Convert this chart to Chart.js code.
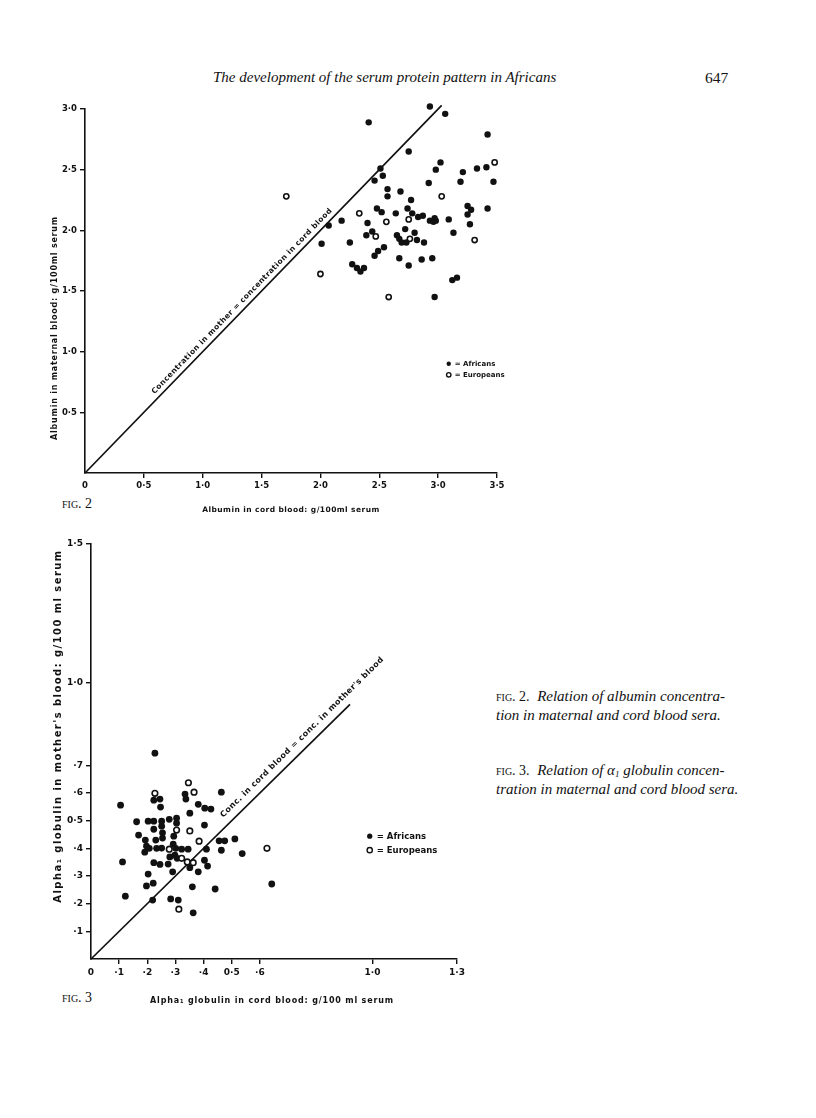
<!DOCTYPE html>
<html>
<head>
<meta charset="utf-8">
<script src="https://cdn.jsdelivr.net/npm/chart.js@4.4.1/dist/chart.umd.min.js"></script>
<style>
  body { margin: 0; background: #fff; }
  #page { position: relative; width: 816px; height: 1118px; overflow: hidden; font-family: "Liberation Serif", serif; color: #111; }
  .txt { position: absolute; white-space: nowrap; }
  canvas { position: absolute; left: 0; }
  .fig { font-variant: small-caps; font-size: 14px; }
  .cap { font-style: italic; font-size: 15px; line-height: 18px; }
  sub { font-size: 9px; line-height: 0; vertical-align: -2px; }
</style>
</head>
<body>
<div id="page">
  <div class="txt" style="left:213px; top:69px; font-style:italic; font-size:15px;">The development of the serum protein pattern in Africans</div>
  <div class="txt" style="left:705px; top:69px; font-size:15.5px;">647</div>
  <div class="txt fig" style="left:62px; top:496px;">fig. 2</div>
  <div class="txt fig" style="left:62px; top:990px;">fig. 3</div>
  <div class="txt cap" style="left:496px; top:687px;"><span class="fig" style="font-style:normal">fig. 2.</span>&nbsp; Relation of albumin concentra-<br>tion in maternal and cord blood sera.</div>
  <div class="txt cap" style="left:496px; top:761px;"><span class="fig" style="font-style:normal">fig. 3.</span>&nbsp; Relation of α<sub>1</sub> globulin concen-<br>tration in maternal and cord blood sera.</div>
  <canvas id="chart2" width="540" height="440" style="top:90px"></canvas>
  <canvas id="chart3" width="500" height="500" style="top:530px"></canvas>
</div>
<script>
// Fig. 2 - albumin, g/100 ml serum
const albAfricanCord = [2.93, 3.06, 2.41, 3.42, 2.75, 3.02, 2.98, 3.41, 3.33, 3.21, 3.47, 3.19, 2.92, 2.51, 2.53, 2.46,
  2.57, 2.57, 2.68, 2.77, 2.07, 2.18, 2.40, 2.48, 2.52, 2.64, 2.74, 2.78, 2.83, 2.87, 2.93, 2.97, 2.98, 2.96, 3.09,
  3.25, 3.28, 3.25, 3.27, 3.42, 3.13, 2.01, 2.25, 2.39, 2.44, 2.72, 2.65, 2.67, 2.69, 2.73, 2.80, 2.82, 2.88, 2.54,
  2.49, 2.46, 2.67, 2.75, 2.86, 2.95, 2.27, 2.31, 2.34, 2.37, 3.12, 3.16, 2.97];
const albAfricanMother = [3.02, 2.96, 2.89, 2.79, 2.65, 2.56, 2.50, 2.52, 2.51, 2.48, 2.40, 2.40, 2.39, 2.51, 2.45, 2.41,
  2.34, 2.28, 2.32, 2.25, 2.04, 2.08, 2.06, 2.18, 2.15, 2.14, 2.18, 2.14, 2.11, 2.12, 2.08, 2.10, 2.08, 2.07, 2.09,
  2.20, 2.17, 2.13, 2.05, 2.18, 1.98, 1.89, 1.90, 1.96, 1.99, 2.01, 1.96, 1.93, 1.90, 1.90, 1.98, 1.92, 1.90, 1.86,
  1.83, 1.79, 1.77, 1.71, 1.76, 1.77, 1.72, 1.69, 1.66, 1.69, 1.59, 1.61, 1.45];
const albEuropeanCord = [3.48, 1.71, 3.03, 2.33, 2.56, 2.75, 3.31, 2.47, 2.76, 2.00, 2.58];
const albEuropeanMother = [2.56, 2.28, 2.28, 2.14, 2.07, 2.09, 1.92, 1.95, 1.93, 1.64, 1.45];
const albTicksX = [0, 0.5, 1.0, 1.5, 2.0, 2.5, 3.0, 3.5];
const albTickLabelsX = ["0", "0·5", "1·0", "1·5", "2·0", "2·5", "3·0", "3·5"];
const albTicksY = [0.5, 1.0, 1.5, 2.0, 2.5, 3.0];
const albTickLabelsY = ["0·5", "1·0", "1·5", "2·0", "2·5", "3·0"];

// Fig. 3 - alpha1 globulin, g/100 ml serum
const alphaAfricanCord = [0.227, 0.105, 0.112, 0.122, 0.162, 0.169, 0.193, 0.203, 0.197, 0.191, 0.207, 0.203, 0.197,
  0.221, 0.219, 0.223, 0.245, 0.247, 0.223, 0.251, 0.223, 0.251, 0.254, 0.254, 0.230, 0.233, 0.251, 0.223, 0.245,
  0.278, 0.304, 0.304, 0.294, 0.292, 0.301, 0.280, 0.298, 0.306, 0.274, 0.290, 0.283, 0.322, 0.345, 0.334, 0.337,
  0.351, 0.381, 0.404, 0.426, 0.403, 0.410, 0.403, 0.414, 0.381, 0.360, 0.363, 0.351, 0.310, 0.441, 0.463, 0.455,
  0.475, 0.463, 0.511, 0.537, 0.642];
const alphaAfricanMother = [0.744, 0.556, 0.351, 0.227, 0.496, 0.448, 0.430, 0.498, 0.408, 0.386, 0.400, 0.307, 0.264,
  0.274, 0.213, 0.574, 0.578, 0.549, 0.498, 0.498, 0.469, 0.480, 0.456, 0.437, 0.430, 0.400, 0.401, 0.348, 0.342,
  0.505, 0.509, 0.491, 0.444, 0.415, 0.400, 0.369, 0.375, 0.364, 0.343, 0.315, 0.217, 0.397, 0.397, 0.596, 0.578,
  0.527, 0.559, 0.545, 0.542, 0.484, 0.397, 0.357, 0.336, 0.315, 0.261, 0.167, 0.330, 0.213, 0.253, 0.603, 0.427,
  0.427, 0.393, 0.434, 0.381, 0.271];
const alphaEuropeanCord = [0.227, 0.346, 0.366, 0.304, 0.351, 0.384, 0.278, 0.322, 0.342, 0.363, 0.312, 0.625];
const alphaEuropeanMother = [0.599, 0.637, 0.603, 0.466, 0.463, 0.426, 0.397, 0.364, 0.351, 0.348, 0.180, 0.400];
const alphaTicksX = [0, 0.1, 0.2, 0.3, 0.4, 0.5, 0.6, 1.0, 1.3];
const alphaTickLabelsX = ["0", "·1", "·2", "·3", "·4", "0·5", "·6", "1·0", "1·3"];
const alphaTicksY = [0.1, 0.2, 0.3, 0.4, 0.5, 0.6, 0.7, 1.0, 1.5];
const alphaTickLabelsY = ["·1", "·2", "·3", "·4", "0·5", "·6", "·7", "1·0", "1·5"];

const INK = "#111";
const SANS = "'DejaVu Sans', 'Liberation Sans', sans-serif";

function points(xs, ys) {
  return xs.map((x, i) => ({ x: x, y: ys[i] }));
}

// stretch letters so a text covers the wanted width
function fitText(ctx, text, width) {
  ctx.letterSpacing = "0px";
  const w = ctx.measureText(text).width;
  const sp = (width - w) / Math.max(text.length - 1, 1);
  ctx.letterSpacing = sp + "px";
}

const figureText = {
  id: "figureText",
  afterDraw(chart, args, o) {
    const ctx = chart.ctx;
    const xs = chart.scales.x, ys = chart.scales.y, area = chart.chartArea;
    ctx.save();
    ctx.fillStyle = INK;
    ctx.strokeStyle = INK;

    // label along the diagonal
    const p0 = { x: xs.getPixelForValue(o.line.from), y: ys.getPixelForValue(o.line.from) };
    const p1 = { x: xs.getPixelForValue(o.line.to), y: ys.getPixelForValue(o.line.to) };
    ctx.save();
    ctx.translate(p0.x, p0.y);
    ctx.rotate(Math.atan2(p1.y - p0.y, p1.x - p0.x));
    ctx.font = o.line.font;
    ctx.textAlign = "left";
    ctx.textBaseline = "alphabetic";
    fitText(ctx, o.line.text, Math.hypot(p1.x - p0.x, p1.y - p0.y));
    ctx.fillText(o.line.text, 0, -o.line.offset);
    ctx.restore();

    // key
    const kx = xs.getPixelForValue(o.key.x);
    ctx.font = o.key.font;
    ctx.textBaseline = "middle";
    ctx.textAlign = "left";
    o.key.rows.forEach((row, i) => {
      const ky = ys.getPixelForValue(o.key.y) + i * o.key.dy;
      ctx.beginPath();
      ctx.arc(kx, ky, o.key.r, 0, Math.PI * 2);
      ctx.lineWidth = 1.4;
      if (row.filled) ctx.fill(); else ctx.stroke();
      ctx.fillText(row.text, kx + o.key.gap, ky + 0.5);
    });

    // axis titles
    ctx.textAlign = "center";
    ctx.font = o.xTitle.font;
    fitText(ctx, o.xTitle.text, o.xTitle.width);
    ctx.fillText(o.xTitle.text, (area.left + area.right) / 2 + o.xTitle.dx, area.bottom + o.xTitle.dy);
    ctx.save();
    ctx.translate(area.left - o.yTitle.dx, area.bottom - o.yTitle.dy);
    ctx.rotate(-Math.PI / 2);
    ctx.font = o.yTitle.font;
    fitText(ctx, o.yTitle.text, o.yTitle.width);
    ctx.fillText(o.yTitle.text, 0, 0);
    ctx.restore();

    ctx.restore();
  }
};

function axis(min, max, ticks, labels, size, fontSize) {
  return {
    type: "linear",
    min: min,
    max: max,
    afterBuildTicks: (scale) => { scale.ticks = ticks.map(v => ({ value: v })); },
    afterFit: (scale) => {
      if (scale.isHorizontal()) scale.height = size; else scale.width = size;
    },
    ticks: {
      autoSkip: false,
      maxRotation: 0,
      color: INK,
      padding: 3,
      font: { family: SANS, size: fontSize, weight: "bold" },
      callback: (value) => {
        const i = ticks.indexOf(value);
        return i < 0 ? "" : labels[i];
      }
    },
    grid: {
      drawOnChartArea: false,
      drawTicks: true,
      tickLength: 5,
      lineWidth: 1.4,
      tickColor: (c) => (c.tick && c.tick.value === 0 ? "rgba(0,0,0,0)" : INK)
    },
    border: { display: true, color: INK, width: 1.6 }
  };
}

function makeChart(id, cfg) {
  return new Chart(document.getElementById(id), {
    type: "scatter",
    data: {
      datasets: [
        {
          label: "Africans",
          data: points(cfg.afrX, cfg.afrY),
          pointRadius: cfg.r,
          pointBackgroundColor: INK,
          pointBorderColor: INK,
          pointBorderWidth: 0,
          clip: false,
          order: 1
        },
        {
          label: "Europeans",
          data: points(cfg.eurX, cfg.eurY),
          pointRadius: cfg.r - 0.6,
          pointBackgroundColor: "#fff",
          pointBorderColor: INK,
          pointBorderWidth: 1.6,
          clip: false,
          order: 0
        },
        {
          label: "equal",
          data: [{ x: 0, y: 0 }, { x: cfg.lineEnd, y: cfg.lineEnd }],
          showLine: true,
          borderColor: INK,
          borderWidth: 1.7,
          pointRadius: 0,
          clip: false,
          order: 3
        }
      ]
    },
    options: {
      responsive: false,
      animation: false,
      devicePixelRatio: 1,
      layout: { padding: cfg.padding },
      scales: {
        x: axis(0, cfg.xMax, cfg.ticksX, cfg.labelsX, cfg.xSize, cfg.tickFont),
        y: axis(0, cfg.yMax, cfg.ticksY, cfg.labelsY, cfg.ySize, cfg.tickFont)
      },
      plugins: {
        legend: { display: false },
        tooltip: { enabled: false },
        figureText: cfg.text
      }
    },
    plugins: [figureText]
  });
}

makeChart("chart2", {
  afrX: albAfricanCord, afrY: albAfricanMother,
  eurX: albEuropeanCord, eurY: albEuropeanMother,
  r: 3.2, lineEnd: 3.03,
  xMax: 3.5, yMax: 3.0,
  ticksX: albTicksX, labelsX: albTickLabelsX,
  ticksY: albTicksY, labelsY: albTickLabelsY,
  xSize: 57, ySize: 85, tickFont: 8.5,
  padding: { left: 0, top: 19, right: 43, bottom: 0 },
  text: {
    line: { text: "Concentration in mother = concentration in cord blood", from: 0.62, to: 2.13, offset: 5,
      font: "bold 7.5px " + SANS },
    key: { x: 3.09, y: 0.9, dy: 11, r: 2.2, gap: 6, font: "bold 7px " + SANS,
      rows: [{ filled: true, text: "= Africans" }, { filled: false, text: "= Europeans" }] },
    xTitle: { text: "Albumin in cord blood: g/100ml serum", width: 177, dx: 0, dy: 37, font: "bold 7.5px " + SANS },
    yTitle: { text: "Albumin in maternal blood: g/100ml serum", width: 223, dx: 30, dy: 145, font: "bold 8px " + SANS }
  }
});

makeChart("chart3", {
  afrX: alphaAfricanCord, afrY: alphaAfricanMother,
  eurX: alphaEuropeanCord, eurY: alphaEuropeanMother,
  r: 3.4, lineEnd: 0.92,
  xMax: 1.3, yMax: 1.5,
  ticksX: alphaTicksX, labelsX: alphaTickLabelsX,
  ticksY: alphaTicksY, labelsY: alphaTickLabelsY,
  xSize: 71, ySize: 91, tickFont: 9,
  padding: { left: 0, top: 14, right: 43, bottom: 0 },
  text: {
    line: { text: "Conc. in cord blood = conc. in mother's blood", from: 0.49, to: 1.06, offset: 8,
      font: "bold 8px " + SANS },
    key: { x: 0.99, y: 0.444, dy: 14, r: 2.6, gap: 7, font: "bold 8.5px " + SANS,
      rows: [{ filled: true, text: "= Africans" }, { filled: false, text: "= Europeans" }] },
    xTitle: { text: "Alpha\u2081 globulin in cord blood: g/100 ml serum", width: 243, dx: -2, dy: 42, font: "bold 8px " + SANS },
    yTitle: { text: "Alpha\u2081 globulin in mother's blood: g/100 ml serum", width: 352, dx: 33, dy: 233, font: "bold 10px " + SANS }
  }
});
</script>
</body>
</html>
